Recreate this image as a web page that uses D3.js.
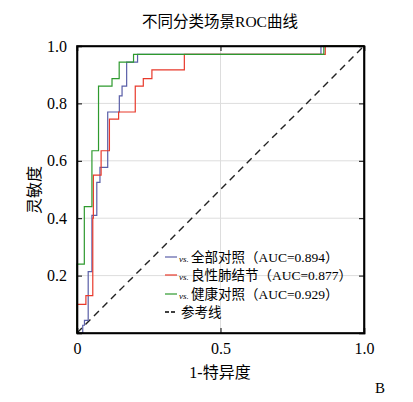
<!DOCTYPE html><html><head><meta charset="utf-8"><script src="https://cdn.jsdelivr.net/npm/d3@7"></script>
<style>body{margin:0;background:#fff}text{font-family:"Liberation Serif","Noto Sans CJK SC",serif}</style></head><body><svg id="c" width="413" height="402"></svg><script>
const blue=[[0,0],[0.02,0],[0.02,0.027],[0.026,0.027],[0.026,0.044],[0.039,0.044],[0.039,0.214],[0.052,0.214],[0.052,0.41],[0.069,0.41],[0.069,0.525],[0.08,0.525],[0.08,0.577],[0.107,0.577],[0.107,0.77],[0.1475,0.77],[0.1475,0.826],[0.157,0.826],[0.157,0.86],[0.173,0.86],[0.173,0.944],[0.211,0.944],[0.211,0.971],[0.85,0.971],[0.85,1],[1,1]];
const red=[[0,0],[0,0.1],[0.031,0.1],[0.031,0.13],[0.055,0.13],[0.055,0.4],[0.057,0.4],[0.057,0.55],[0.084,0.55],[0.084,0.635],[0.113,0.635],[0.113,0.745],[0.145,0.745],[0.145,0.77],[0.203,0.77],[0.203,0.86],[0.231,0.86],[0.231,0.886],[0.261,0.886],[0.261,0.917],[0.374,0.917],[0.374,0.971],[0.865,0.971],[0.865,1],[1,1]];
const green=[[0,0],[0,0.24],[0.0255,0.24],[0.0255,0.44],[0.052,0.44],[0.052,0.635],[0.075,0.635],[0.075,0.86],[0.122,0.86],[0.122,0.886],[0.147,0.886],[0.147,0.944],[0.197,0.944],[0.197,0.971],[0.86,0.971],[0.86,1],[1,1]];
const ref=[[0,0],[1,1]];
const labels=["全部对照（AUC=0.894）","良性肺结节（AUC=0.877）","健康对照（AUC=0.929）","参考线"];
const colors=["#5a5fa8","#e8392b","#2e9a2e","#000"];
const xTicks=[0,0.5,1],yTicks=[0.2,0.4,0.6,0.8,1.0];
const svg=d3.select("#c");
const x=d3.scaleLinear([0,1],[77,364]),y=d3.scaleLinear([0,1],[333,46]);
const g=svg.append("g");
xTicks.slice(1,2).forEach(t=>g.append("line").attr("x1",x(t)).attr("x2",x(t)).attr("y1",y(0)).attr("y2",y(1)).attr("stroke","#ddd"));
yTicks.slice(0,4).forEach(t=>g.append("line").attr("x1",x(0)).attr("x2",x(1)).attr("y1",y(t)).attr("y2",y(t)).attr("stroke","#ddd"));
const line=d3.line().x(d=>x(d[0])).y(d=>y(d[1]));
g.append("path").datum(ref).attr("d",line).attr("stroke","#222").attr("stroke-width",1.4).attr("stroke-dasharray","7,5").attr("fill","none");
[blue,red,green].forEach((s,i)=>g.append("path").datum(s).attr("d",line).attr("stroke",colors[i]).attr("stroke-width",1.2).attr("fill","none"));
g.append("g").attr("transform","translate(0,333)").call(d3.axisBottom(x).tickValues(xTicks).tickSize(-5).tickFormat(d=>d===0?"0":d3.format(".1f")(d)).tickPadding(10));
g.append("g").attr("transform","translate(0,46)").call(d3.axisTop(x).tickValues(xTicks).tickSize(-5).tickFormat(""));
g.append("g").attr("transform","translate(77,0)").call(d3.axisLeft(y).tickValues([0,...yTicks]).tickSize(-5).tickFormat(d=>d===0?"":d3.format(".1f")(d)).tickPadding(10));
g.append("g").attr("transform","translate(364,0)").call(d3.axisRight(y).tickValues(yTicks).tickSize(-5).tickFormat(""));
svg.selectAll(".domain").attr("stroke","#000").attr("stroke-width",1.6);
svg.selectAll(".tick text").attr("font-size",16).attr("fill","#000").style("font-family","Liberation Serif");
g.append("rect").attr("x",77).attr("y",46).attr("width",287).attr("height",287).attr("fill","none").attr("stroke","#000").attr("stroke-width",1.6);
svg.append("text").attr("x",220).attr("y",27).attr("text-anchor","middle").attr("font-size",15.5).text("不同分类场景ROC曲线");
svg.append("text").attr("x",220).attr("y",378).attr("text-anchor","middle").attr("font-size",16).text("1-特异度");
svg.append("text").attr("transform","translate(40,190) rotate(-90)").attr("text-anchor","middle").attr("font-size",16).text("灵敏度");
svg.append("text").attr("x",375).attr("y",393).attr("font-size",15).text("B");
const ly=[257,275,294,312];
labels.forEach((l,i)=>{
 g.append("line").attr("x1",165).attr("x2",177).attr("y1",ly[i]).attr("y2",ly[i]).attr("stroke",colors[i]).attr("stroke-width",i==3?1.6:1.2).attr("stroke-dasharray",i==3?"4,2":null);
 const t=g.append("text").attr("x",i==3?181:179).attr("y",ly[i]+4.5).attr("font-size",13.5);
 if(i<3){t.append("tspan").attr("font-size",9).attr("font-style","italic").text("vs. ");}
 t.append("tspan").text(l);
});
</script></body></html>
